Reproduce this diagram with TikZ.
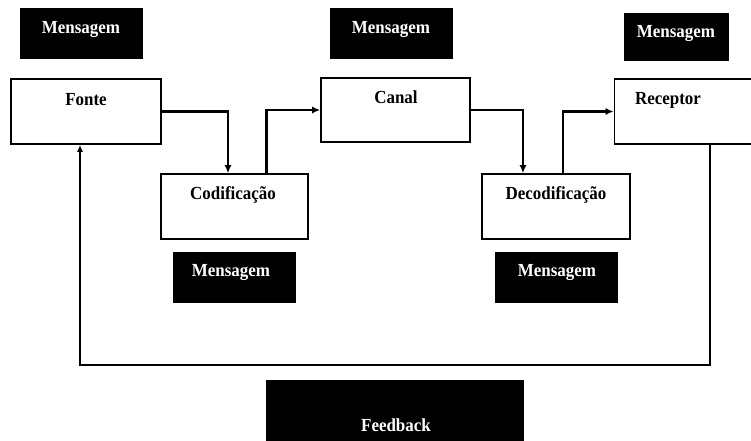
\documentclass[tikz,border=0pt]{standalone}
\usepackage{fontspec}
\setmainfont{Liberation Serif}
\newfontfamily\diagfont[FakeStretch=0.92]{Liberation Serif}
\usetikzlibrary{arrows.meta,shadows}
\begin{document}
\begin{tikzpicture}[x=1bp,y=-1bp,
  blackbox/.style={fill=black,draw=black,inner sep=0pt},
  wbox/.style={draw=black,fill=white,line width=1.6bp,inner sep=0pt,
    drop shadow={shadow xshift=1bp,shadow yshift=-1bp,fill=black,opacity=1}},
  lbl/.style={font=\diagfont\fontsize{18.5}{22}\selectfont\bfseries,inner sep=0pt},
  wlbl/.style={lbl,text=white},
  conn/.style={line width=2.6bp,-{Latex[length=8bp,width=7bp]}},
  fbline/.style={line width=1.6bp,-{Latex[length=7bp,width=6bp]}}]
\useasboundingbox (0,0) rectangle (751,441);
\fill[white] (0,0) rectangle (751,441);
% black message boxes
\node[blackbox,minimum width=122bp,minimum height=50bp] (m1) at (81,33) {};
\node[wlbl] (m1t) at (81,30) {Mensagem};
\node[blackbox,minimum width=122bp,minimum height=50bp] (m2) at (391,33) {};
\node[wlbl] (m2t) at (391,30) {Mensagem};
\node[blackbox,minimum width=104bp,minimum height=47bp] (m3) at (676,36.5) {};
\node[wlbl] (m3t) at (676,34) {Mensagem};
\node[blackbox,minimum width=122bp,minimum height=50bp] (m4) at (234,277) {};
\node[wlbl] (m4t) at (231,273) {Mensagem};
\node[blackbox,minimum width=122bp,minimum height=50bp] (m5) at (556,277) {};
\node[wlbl] (m5t) at (557,273) {Mensagem};
\node[blackbox,minimum width=257bp,minimum height=62bp] (fb) at (394.5,411) {};
\node[wlbl] (fbt) at (396,425) {Feedback};
% white boxes
\node[wbox,minimum width=150bp,minimum height=65bp] (fonte) at (86,111.5) {};
\node[lbl] (fontet) at (86,100) {Fonte};
\node[wbox,minimum width=149bp,minimum height=64bp] (canal) at (395.5,110) {};
\node[lbl] (canalt) at (396,97) {Canal};
\node[wbox,minimum width=141bp,minimum height=65bp] (rec) at (685,111.5) {};
\node[lbl] (rect) at (668,100) {Receptor};
\node[wbox,minimum width=147bp,minimum height=65bp] (cod) at (234.5,206.5) {};
\node[lbl] (codt) at (233,195) {Codificação};
\node[wbox,minimum width=148bp,minimum height=65bp] (dec) at (556,206.5) {};
\node[lbl] (dect) at (556,195) {Decodificação};
% connectors
\draw[conn] (fonte.east) -| ([xshift=-6.5bp]cod.north);
\draw[conn] ([xshift=32bp]cod.north) |- (canal.west);
\draw[conn] (canal.east) -| ([xshift=-33bp]dec.north);
\draw[conn] ([xshift=7bp]dec.north) |- (rec.west);
\coordinate (fbr) at (710,365);
\coordinate (fbl) at (80,365);
\draw[fbline] ([xshift=25bp]rec.south) -- (fbr) -- (fbl) -- ([xshift=-6bp]fonte.south);
\end{tikzpicture}
\end{document}
